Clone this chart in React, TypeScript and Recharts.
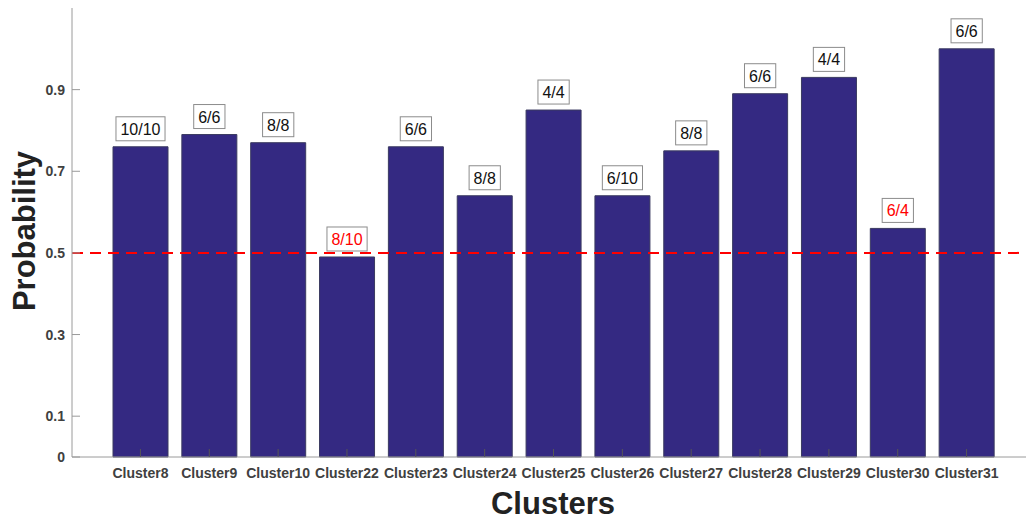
import React from "react";
import { BarChart, Bar, XAxis, YAxis, ReferenceLine, LabelList, Label } from "recharts";

const clusters = [
  "Cluster8", "Cluster9", "Cluster10", "Cluster22", "Cluster23", "Cluster24", "Cluster25",
  "Cluster26", "Cluster27", "Cluster28", "Cluster29", "Cluster30", "Cluster31",
];
const probabilities = [0.76, 0.79, 0.77, 0.49, 0.76, 0.64, 0.85, 0.64, 0.75, 0.89, 0.93, 0.56, 1.0];
const counts = ["10/10", "6/6", "8/8", "8/10", "6/6", "8/8", "4/4", "6/10", "8/8", "6/6", "4/4", "6/4", "6/6"];
const flagged = ["Cluster22", "Cluster30"];
const yTicks = [0, 0.1, 0.3, 0.5, 0.7, 0.9];
const threshold = 0.5;

const data = clusters.map((c, i) => ({ name: c, p: probabilities[i], count: counts[i] }));

const FONT = "'Liberation Sans', Arial, sans-serif";
const PLOT_LEFT = 72;
const PLOT_TOP = 8;
const PLOT_BOTTOM = 457;
const AXIS = "#9a9a9a";
const TICK_TXT = "#404040";

const BottomTick = ({ x, payload }: any) => (
  <g>
    <line x1={x} x2={x} y1={PLOT_BOTTOM} y2={PLOT_BOTTOM - 8} stroke="#555" />
    <text x={x} y={478} textAnchor="middle" fontFamily={FONT} fontWeight="bold" fontSize={14} fill={TICK_TXT}>
      {payload.value}
    </text>
  </g>
);

const TopTick = ({ x }: any) => (
  <line x1={x} x2={x} y1={PLOT_TOP} y2={PLOT_TOP + 8} stroke={AXIS} />
);

const LeftTick = ({ y, payload }: any) => (
  <g>
    <line x1={PLOT_LEFT} x2={PLOT_LEFT + 8} y1={y} y2={y} stroke={AXIS} />
    <text x={PLOT_LEFT - 7} y={y + 5} textAnchor="end" fontFamily={FONT} fontWeight="bold" fontSize={14} fill={TICK_TXT}>
      {payload.value}
    </text>
  </g>
);

const textWidth = (s: string) =>
  s.split("").reduce((w, ch) => w + (ch === "/" ? 4.45 : 8.9), 0);

const CountLabel = (props: any) => {
  const { x, y, width, value, index } = props;
  const cx = x + width / 2;
  const w = textWidth(String(value)) + 9;
  const h = 24;
  const bottom = y - 6;
  const red = flagged.includes(clusters[index]);
  return (
    <g>
      <rect x={cx - w / 2} y={bottom - h} width={w} height={h} fill="#fff" stroke="#8c8c8c" strokeWidth={1} />
      <text x={cx} y={bottom - 6} textAnchor="middle" fontFamily={FONT} fontSize={16} fill={red ? "#ff0000" : "#111"}>
        {value}
      </text>
    </g>
  );
};

export default function App() {
  return (
    <div style={{ position: "absolute", left: 0, top: 0, width: 1026, height: 523, background: "#fff" }}>
      <BarChart width={1026} height={523} data={data} margin={{ top: PLOT_TOP, right: 0, bottom: 0, left: 0 }}>
        <XAxis
          dataKey="name"
          type="category"
          height={66}
          padding={{ left: 34, right: 25 }}
          axisLine={{ stroke: AXIS }}
          tickLine={false}
          tick={<BottomTick />}
          interval={0}
        >
          <Label
            content={() => (
              <text x={553} y={514} textAnchor="middle" fontFamily={FONT} fontWeight="bold" fontSize={31} fill="#222">
                Clusters
              </text>
            )}
          />
        </XAxis>
        <XAxis
          xAxisId="top"
          dataKey="name"
          type="category"
          orientation="top"
          height={0}
          padding={{ left: 34, right: 25 }}
          axisLine={{ stroke: AXIS }}
          tickLine={false}
          tick={<TopTick />}
          interval={0}
        />
        <YAxis
          type="number"
          domain={[0, 1.1]}
          ticks={yTicks}
          width={PLOT_LEFT}
          axisLine={{ stroke: AXIS }}
          tickLine={false}
          tick={<LeftTick />}
          interval={0}
        >
          <Label
            content={() => (
              <text
                x={35}
                y={231}
                transform="rotate(-90 35 231)"
                textAnchor="middle"
                fontFamily={FONT}
                fontWeight="bold"
                fontSize={31}
                fill="#222"
              >
                Probability
              </text>
            )}
          />
        </YAxis>
        <Bar dataKey="p" barSize={55} fill="#342982" stroke="#3a3a60" strokeWidth={1} isAnimationActive={false}>
          <LabelList dataKey="count" content={<CountLabel />} />
        </Bar>
        <ReferenceLine y={threshold} stroke="#ff0000" strokeWidth={2} strokeDasharray="11 7" />
      </BarChart>
    </div>
  );
}
